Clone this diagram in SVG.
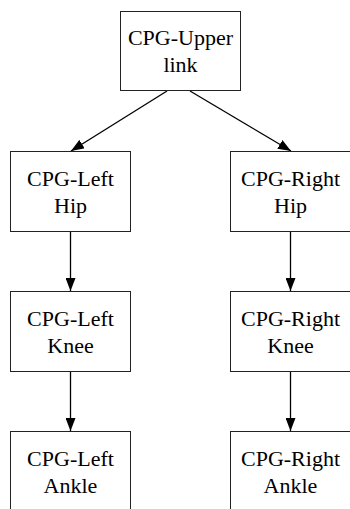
<svg xmlns="http://www.w3.org/2000/svg" width="350" height="509" viewBox="0 0 350 509">
<defs>
<marker id="ah" viewBox="0 0 13 10" refX="13" refY="5" markerWidth="13" markerHeight="10" markerUnits="userSpaceOnUse" orient="auto">
<path d="M0,0 L13,5 L0,10 Z" fill="#000"/>
</marker>
<style>
.box{fill:#fff;stroke:#222;stroke-width:1}
.t{font-family:'Liberation Serif','Times New Roman','DejaVu Serif',serif;font-size:22px;fill:#000;text-anchor:middle}
.e{stroke:#000;stroke-width:1.3;fill:none;marker-end:url(#ah)}
</style>
</defs>
<rect width="350" height="509" fill="#fff"/>
<g id="connectors">
<line class="e" x1="167" y1="91" x2="71" y2="151"/>
<line class="e" x1="190" y1="91" x2="291" y2="151"/>
<line class="e" x1="70.5" y1="232" x2="70.5" y2="291"/>
<line class="e" x1="70.5" y1="371" x2="70.5" y2="431"/>
<line class="e" x1="290.5" y1="232" x2="290.5" y2="291"/>
<line class="e" x1="290.5" y1="371" x2="290.5" y2="431"/>
</g>
<g id="upper">
<rect class="box" x="120.5" y="11.5" width="120" height="79"/>
<text class="t" x="180.5" y="45">CPG-Upper</text>
<text class="t" x="180.5" y="72">link</text>
</g>
<g id="left-hip">
<rect class="box" x="10.5" y="151.5" width="120" height="80"/>
<text class="t" x="70.5" y="185.5">CPG-Left</text>
<text class="t" x="70.5" y="212.5">Hip</text>
</g>
<g id="right-hip">
<rect class="box" x="230.5" y="151.5" width="120" height="80"/>
<text class="t" x="290.5" y="185.5">CPG-Right</text>
<text class="t" x="290.5" y="212.5">Hip</text>
</g>
<g id="left-knee">
<rect class="box" x="10.5" y="291.5" width="120" height="80"/>
<text class="t" x="70.5" y="325.5">CPG-Left</text>
<text class="t" x="70.5" y="352.5">Knee</text>
</g>
<g id="right-knee">
<rect class="box" x="230.5" y="291.5" width="120" height="80"/>
<text class="t" x="290.5" y="325.5">CPG-Right</text>
<text class="t" x="290.5" y="352.5">Knee</text>
</g>
<g id="left-ankle">
<rect class="box" x="10.5" y="431.5" width="120" height="80"/>
<text class="t" x="70.5" y="465.5">CPG-Left</text>
<text class="t" x="70.5" y="492.5">Ankle</text>
</g>
<g id="right-ankle">
<rect class="box" x="230.5" y="431.5" width="120" height="80"/>
<text class="t" x="290.5" y="465.5">CPG-Right</text>
<text class="t" x="290.5" y="492.5">Ankle</text>
</g>
</svg>
